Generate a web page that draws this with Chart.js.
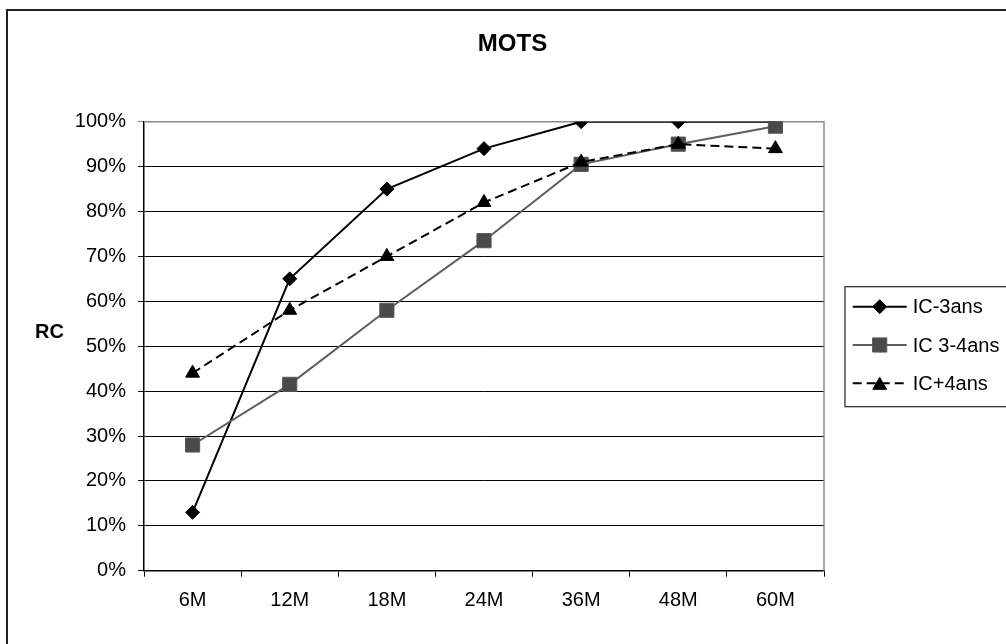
<!DOCTYPE html>
<html lang="fr">
<head>
    <meta charset="UTF-8">
    <title>MOTS</title>
    <script src="https://cdn.jsdelivr.net/npm/chart.js@4.4.1/dist/chart.umd.min.js"></script>
    <style>
        html, body { margin: 0; padding: 0; background: #fff; overflow: hidden; }
        #wrap { position: relative; width: 1006px; height: 644px; }
    </style>
</head>
<body>
    <div id="wrap">
        <canvas id="myChart" width="1006" height="644"></canvas>
    </div>

    <script>
        // data
        var ages = ['6M', '12M', '18M', '24M', '36M', '48M', '60M'];
        var icMoins3 = [13, 65, 85, 94, 100, 100, 100];
        var ic3a4 = [28, 41.5, 58, 73.5, 90.5, 95, 99];
        var icPlus4 = [44, 58, 70, 82, 91, 95, 94];
        var seriesNames = ['IC-3ans', 'IC 3-4ans', 'IC+4ans'];

        var FONT = "'Liberation Sans', Arial, sans-serif";

        // title, axis title, legend and frames (excel look)
        var decorPlugin = {
            id: 'decor',
            beforeDatasetsDraw: function (chart) {
                var c = chart.ctx, a = chart.chartArea;
                c.save();
                c.strokeStyle = '#8a8a8a';
                c.lineWidth = 1.5;
                c.beginPath();
                c.moveTo(a.left, a.top);
                c.lineTo(a.right, a.top);
                c.lineTo(a.right, a.bottom);
                c.stroke();
                c.restore();
            },
            afterDraw: function (chart) {
                var c = chart.ctx;
                c.save();
                // outer frame
                c.strokeStyle = '#222';
                c.lineWidth = 2;
                c.beginPath();
                c.moveTo(7, 650);
                c.lineTo(7, 10);
                c.lineTo(1010, 10);
                c.stroke();

                c.fillStyle = '#000';
                c.textBaseline = 'middle';
                c.textAlign = 'center';
                c.font = 'bold 24px ' + FONT;
                c.fillText('MOTS', 512.5, 44);
                c.font = 'bold 20px ' + FONT;
                c.fillText('RC', 49.5, 332);

                // legend
                c.strokeStyle = '#222';
                c.lineWidth = 1.2;
                c.strokeRect(845, 286.7, 200, 120);
                var rows = [306.7, 345, 383.3];
                c.font = '20px ' + FONT;
                c.textAlign = 'left';
                chart.data.datasets.forEach(function (ds, i) {
                    var y = rows[i];
                    c.save();
                    c.strokeStyle = ds.borderColor;
                    c.lineWidth = ds.borderWidth;
                    c.setLineDash(ds.borderDash || []);
                    c.beginPath();
                    c.moveTo(852.7, y);
                    c.lineTo(906.7, y);
                    c.stroke();
                    c.restore();
                    c.save();
                    c.fillStyle = ds.pointBackgroundColor;
                    c.strokeStyle = ds.pointBorderColor;
                    c.lineWidth = ds.pointBorderWidth;
                    Chart.helpers.drawPoint(c, {
                        pointStyle: ds.pointStyle,
                        radius: ds.pointRadius,
                        borderWidth: ds.pointBorderWidth,
                        rotation: 0
                    }, 879.7, y + (ds.pointStyle === 'triangle' ? 2 : 0));
                    c.restore();
                    c.fillStyle = '#000';
                    c.fillText(ds.label, 912.7, y + 1);
                });
                c.restore();
            }
        };

        var ctx = document.getElementById('myChart').getContext('2d');
        var graphData = {
            type: 'line',
            data: {
                labels: ages,
                datasets: [{
                    label: seriesNames[0],
                    data: icMoins3,
                    borderColor: '#000',
                    borderWidth: 2,
                    pointStyle: 'rectRot',
                    pointRadius: 7,
                    pointBackgroundColor: '#000',
                    pointBorderColor: '#000',
                    pointBorderWidth: 1,
                    order: 3
                }, {
                    label: seriesNames[1],
                    data: ic3a4,
                    borderColor: '#5e5e5e',
                    borderWidth: 2,
                    pointStyle: 'rect',
                    pointRadius: 10,
                    pointBackgroundColor: '#4a4a4a',
                    pointBorderColor: '#555',
                    pointBorderWidth: 1,
                    order: 2
                }, {
                    label: seriesNames[2],
                    data: icPlus4,
                    borderColor: '#000',
                    borderWidth: 2,
                    borderDash: [9, 5],
                    pointStyle: 'triangle',
                    pointRadius: 8,
                    pointBackgroundColor: '#000',
                    pointBorderColor: '#000',
                    pointBorderWidth: 1,
                    order: 1
                }]
            },
            options: {
                responsive: false,
                animation: false,
                layout: { padding: { left: 0, top: 121.7, right: 182, bottom: 0 } },
                elements: { line: { tension: 0 } },
                plugins: {
                    legend: { display: false },
                    title: { display: false },
                    tooltip: { enabled: false }
                },
                scales: {
                    x: {
                        offset: true,
                        afterFit: function (s) { s.height = 73.3; },
                        grid: {
                            offset: true,
                            drawOnChartArea: false,
                            drawTicks: true,
                            tickLength: 6,
                            color: '#000'
                        },
                        border: { color: '#000', width: 1.5 },
                        ticks: {
                            color: '#000',
                            padding: 12,
                            maxRotation: 0,
                            font: { family: FONT, size: 20 }
                        }
                    },
                    y: {
                        min: 0,
                        max: 100,
                        afterFit: function (s) { s.width = 144; },
                        grid: {
                            color: function (c) { return c.tick && c.tick.value === 100 ? '#8a8a8a' : '#000'; },
                            lineWidth: 1,
                            tickLength: 6
                        },
                        border: { color: '#000', width: 1.5 },
                        ticks: {
                            stepSize: 10,
                            color: '#000',
                            padding: 12,
                            font: { family: FONT, size: 20 },
                            callback: function (v) { return v + '%'; }
                        }
                    }
                }
            },
            plugins: [decorPlugin]
        };

        var myChart = new Chart(ctx, graphData);
    </script>
</body>
</html>
